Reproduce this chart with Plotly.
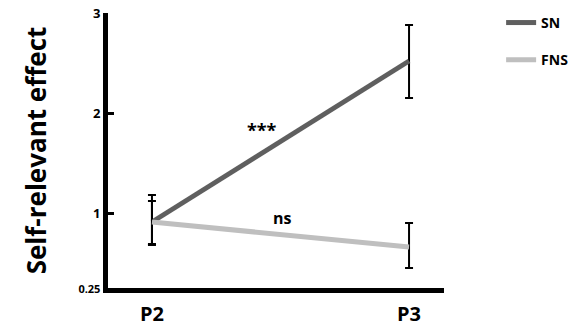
import plotly.graph_objects as go

categories = ["P2", "P3"]
sn_values = [0.91, 2.52]
sn_err_plus = [0.27, 0.36]
sn_err_minus = [0.23, 0.37]
fns_values = [0.91, 0.66]
fns_err_plus = [0.21, 0.24]
fns_err_minus = [0.22, 0.21]
y_tickvals = [0.25, 1, 2, 3]
y_ticktext = ["<span style='font-size:11px'>0.25</span>", "1", "2", "3"]

FONT = "Open Sans"
fig = go.Figure()
fig.add_trace(go.Scatter(
    x=categories, y=sn_values, mode="lines", name="SN", legendgroup="sn",
    line=dict(color="#5f5f5f", width=5),
    error_y=dict(type="data", symmetric=False, array=sn_err_plus, arrayminus=sn_err_minus,
                 color="black", thickness=2, width=4),
))
fig.add_trace(go.Scatter(
    x=categories, y=fns_values, mode="lines", name="FNS", legendgroup="fns",
    line=dict(color="#bfbfbf", width=5),
    error_y=dict(type="data", symmetric=False, array=fns_err_plus, arrayminus=fns_err_minus,
                 color="black", thickness=2, width=4),
))

fig.add_annotation(x=0.428, y=1.83, text="***", showarrow=False,
                   font=dict(family=FONT, size=18, color="black", weight="bold"))
fig.add_annotation(x=0.506, y=0.95, text="ns", showarrow=False,
                   font=dict(family=FONT, size=16, color="black", weight="bold"))

fig.update_layout(
    width=586, height=332,
    margin=dict(l=108, r=142, t=13, b=44, autoexpand=False),
    plot_bgcolor="white", paper_bgcolor="white",
    font=dict(family=FONT, color="black", weight="bold"),
    showlegend=True,
    legend=dict(x=1.17, y=1.022, xanchor="left", yanchor="top", bgcolor="rgba(0,0,0,0)",
                font=dict(size=14, family=FONT, weight="bold"), itemwidth=30,
                tracegroupgap=16),
    xaxis=dict(type="category", range=[-0.171, 1.136], showgrid=False, zeroline=False,
               showline=True, linecolor="black", linewidth=5, ticks="", automargin=False,
               tickfont=dict(size=20, family=FONT, weight="bold"), ticklabelstandoff=4),
    yaxis=dict(range=[0.25, 3.0], showgrid=False, zeroline=False, showline=True,
               linecolor="black", linewidth=5, ticks="inside", ticklen=6, tickwidth=3,
               automargin=False,
               tickcolor="black", tickvals=y_tickvals, ticktext=y_ticktext,
               tickfont=dict(size=13, family=FONT, weight="bold"),
               title=dict(text="Self-relevant effect", font=dict(size=26, family=FONT, weight="bold"),
                          standoff=26)),
)

fig.write_html("out.html")
